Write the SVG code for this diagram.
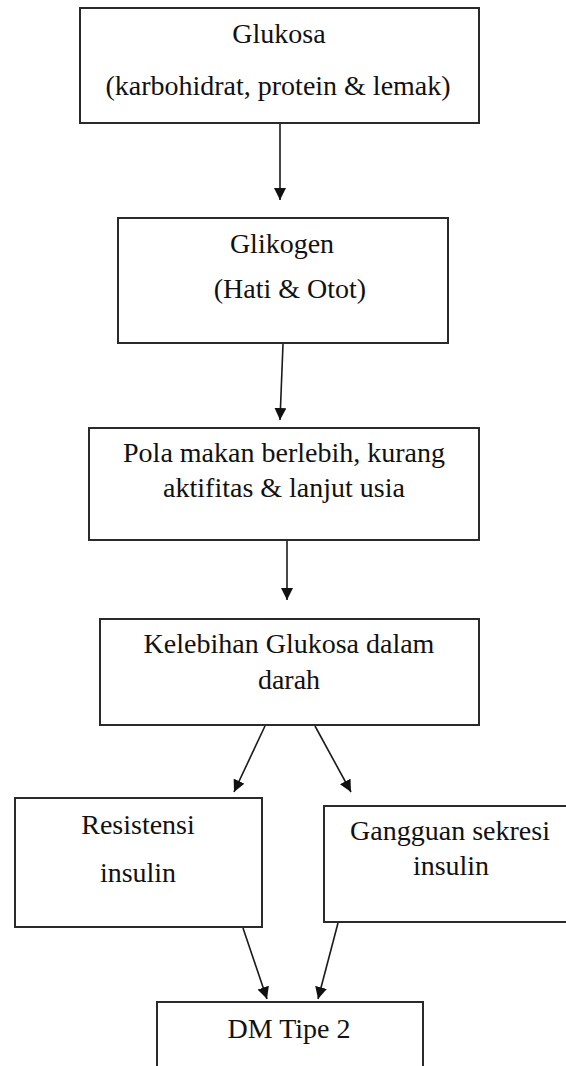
<svg xmlns="http://www.w3.org/2000/svg" width="566" height="1066" viewBox="0 0 566 1066">
<style>
.box{fill:#fff;stroke:#2a2a2a;stroke-width:2}
.t{font-family:"Liberation Serif","Times New Roman",serif;font-size:28px;fill:#111;text-anchor:middle}
.c{stroke:#1a1a1a;stroke-width:1.6;fill:none;marker-end:url(#ah)}
</style>
<defs>
<marker id="ah" markerUnits="userSpaceOnUse" markerWidth="13" markerHeight="13" refX="12" refY="6" orient="auto">
<path d="M0,0 L12,6 L0,12 z" fill="#111"/>
</marker>
</defs>
<rect width="566" height="1066" fill="#fff"/>
<g id="connectors">
<line class="c" x1="280" y1="124" x2="280" y2="200"/>
<line class="c" x1="283" y1="344" x2="280" y2="420"/>
<line class="c" x1="287" y1="541" x2="287" y2="600"/>
<line class="c" x1="265" y1="726" x2="234" y2="792"/>
<line class="c" x1="315" y1="726" x2="351" y2="792"/>
<line class="c" x1="243" y1="928" x2="267" y2="999"/>
<line class="c" x1="338" y1="923" x2="318" y2="999"/>
</g>
<g id="n1">
<rect class="box" x="80" y="8" width="399" height="115"/>
<text class="t" x="279" y="43">Glukosa</text>
<text class="t" x="278" y="95">(karbohidrat, protein &amp; lemak)</text>
</g>
<g id="n2">
<rect class="box" x="118" y="218" width="330" height="125"/>
<text class="t" x="282" y="253">Glikogen</text>
<text class="t" x="290" y="298">(Hati &amp; Otot)</text>
</g>
<g id="n3">
<rect class="box" x="89" y="428" width="390" height="112"/>
<text class="t" x="284" y="462">Pola makan berlebih, kurang</text>
<text class="t" x="284" y="497">aktifitas &amp; lanjut usia</text>
</g>
<g id="n4">
<rect class="box" x="100" y="619" width="379" height="106"/>
<text class="t" x="289" y="653">Kelebihan Glukosa dalam</text>
<text class="t" x="289" y="689">darah</text>
</g>
<g id="n5">
<rect class="box" x="15" y="798" width="247" height="129"/>
<text class="t" x="138" y="834">Resistensi</text>
<text class="t" x="138" y="882">insulin</text>
</g>
<g id="n6">
<rect class="box" x="324" y="806" width="256" height="116"/>
<text class="t" x="450" y="840">Gangguan sekresi</text>
<text class="t" x="451" y="875">insulin</text>
</g>
<g id="n7">
<rect class="box" x="157" y="1002" width="266" height="90"/>
<text class="t" x="289" y="1038">DM Tipe 2</text>
</g>
</svg>
